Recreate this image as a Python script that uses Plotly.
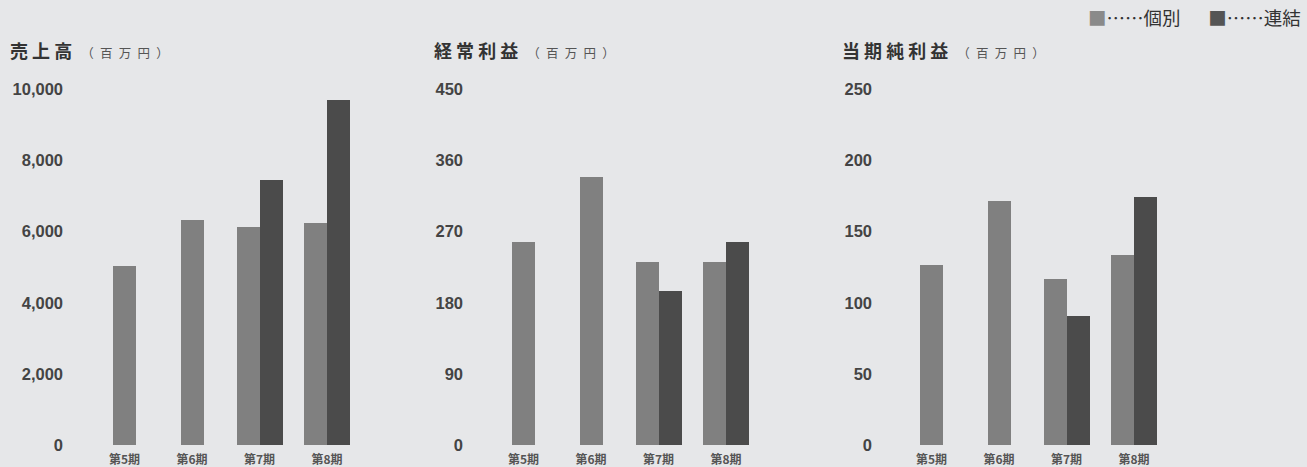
import plotly.graph_objects as go

W_PX, H_PX = 1307, 467

# ---- data ----
periods = ["第5期", "第6期", "第7期", "第8期"]
sales_ind = [5040, 6330, 6160, 6270]
sales_con = [None, None, 7480, 9730]
ord_ind = [258, 340, 232, 232]
ord_con = [None, None, 196, 257]
net_ind = [127, 172, 117, 134]
net_con = [None, None, 91, 175]

titles = ["売 上 高", "経 常 利 益", "当 期 純 利 益"]
unit_label = "（\u2002百\u2002万\u2002円\u2002）"
yticks = [
    [0, 2000, 4000, 6000, 8000, 10000],
    [0, 90, 180, 270, 360, 450],
    [0, 50, 100, 150, 200, 250],
]
legend_labels = ["個別", "連結"]

# ---- style / layout ----
BG = "#e6e7e9"
C_IND = "#808080"
C_CON = "#4b4b4b"
JP = "Noto Sans CJK JP"
NUM = "Liberation Sans, Arial, sans-serif"

dom_left_px = [64, 464, 873]
cat0_px = [124.5, 523.5, 931.5]
dom_w_px = 300
pitch_px = 67.5
bar_w = 23 / pitch_px
title_x_px = [8, 432, 840]
y_bottom_px, y_top_px = 445, 89.5

panels = [(sales_ind, sales_con), (ord_ind, ord_con), (net_ind, net_con)]

fig = go.Figure()
layout = {}
annotations = []
xs = list(range(len(periods)))
for i, (ind, con) in enumerate(panels):
    sfx = "" if i == 0 else str(i + 1)
    xa, ya = "x" + sfx, "y" + sfx
    ind_off = [-bar_w / 2 if c is None else -bar_w for c in con]
    fig.add_trace(go.Bar(x=xs, y=ind, xaxis=xa, yaxis=ya, name=legend_labels[0],
                         marker=dict(color=C_IND, line=dict(width=0)),
                         width=bar_w, offset=ind_off, showlegend=False,
                         hoverinfo="skip"))
    cx = [x for x, c in zip(xs, con) if c is not None]
    cy = [c for c in con if c is not None]
    fig.add_trace(go.Bar(x=cx, y=cy, xaxis=xa, yaxis=ya, name=legend_labels[1],
                         marker=dict(color=C_CON, line=dict(width=0)),
                         width=bar_w, offset=0, showlegend=False,
                         hoverinfo="skip"))
    d0 = dom_left_px[i] / W_PX
    d1 = (dom_left_px[i] + dom_w_px) / W_PX
    r0 = -(cat0_px[i] - dom_left_px[i]) / pitch_px
    r1 = r0 + dom_w_px / pitch_px
    layout["xaxis" + sfx] = dict(
        domain=[d0, d1], range=[r0, r1], anchor=ya,
        tickvals=xs, ticktext=["<b>%s</b>" % p for p in periods],
        tickfont=dict(family=JP, size=12, color="#555555"),
        ticklabelstandoff=6,
        showgrid=False, zeroline=False, showline=False, ticks="",
        automargin=False, fixedrange=True,
    )
    layout["yaxis" + sfx] = dict(
        domain=[(H_PX - y_bottom_px) / H_PX, (H_PX - y_top_px) / H_PX],
        range=[0, yticks[i][-1]], anchor=xa,
        tickvals=yticks[i], tickformat=",d",
        tickfont=dict(family=NUM, size=16.5, color="#444444", weight="bold"),
        showgrid=False, zeroline=False, showline=False, ticks="",
        automargin=False, fixedrange=True,
    )
    annotations.append(dict(
        xref="paper", yref="paper", x=title_x_px[i] / W_PX, y=1 - 50 / H_PX,
        xanchor="left", yanchor="middle", showarrow=False,
        text="<b>%s</b>\u2002<span style='font-size:12.5px;color:#555555'>%s</span>" % (titles[i], unit_label),
        font=dict(family=JP, size=18, color="#333333"),
    ))

annotations.append(dict(
    xref="paper", yref="paper", x=1303 / W_PX, y=1 - 17 / H_PX,
    xanchor="right", yanchor="middle", showarrow=False,
    text=("<span style='color:#8a8a8a'>■</span>……%s\u3000\u2002"
          "<span style='color:#555555'>■</span>……%s") % tuple(legend_labels),
    font=dict(family=JP, size=18.5, color="#333333"),
))

fig.update_layout(
    width=W_PX, height=H_PX,
    margin=dict(l=0, r=0, t=0, b=0, autoexpand=False),
    paper_bgcolor=BG, plot_bgcolor=BG,
    barmode="overlay", bargap=0,
    annotations=annotations,
    showlegend=False,
    **layout,
)

fig.write_html("out.html", config={"displayModeBar": False})
